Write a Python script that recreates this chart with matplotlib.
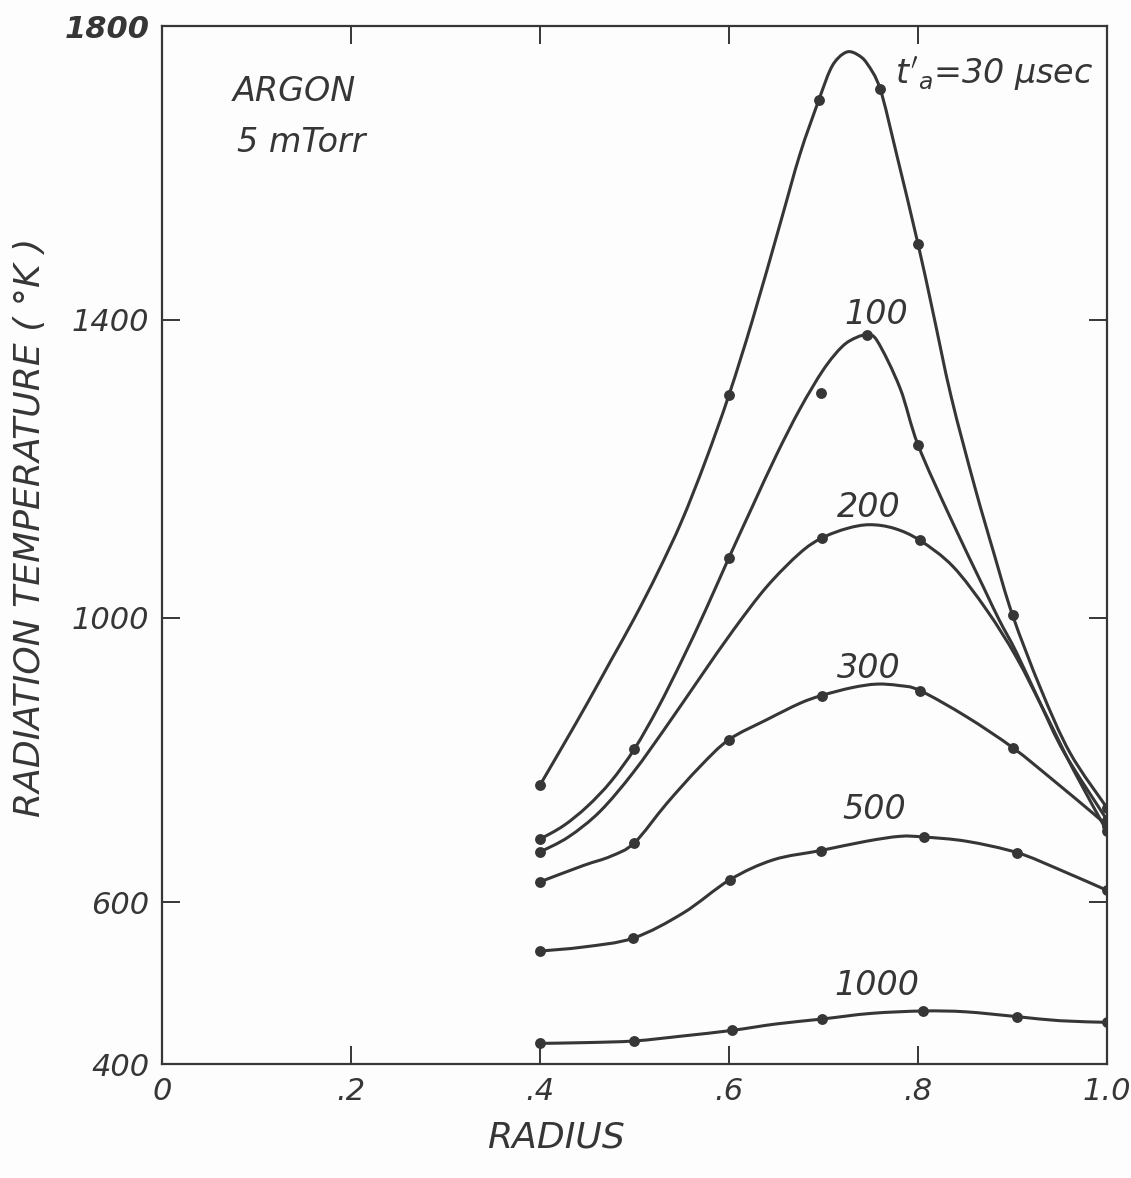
import numpy as np
import matplotlib
matplotlib.use('Agg')
import matplotlib.pyplot as plt
from matplotlib.path import Path
from matplotlib.patches import PathPatch

# colours of the scanned figure
COLOR_BG = '#fdfdfd'
COLOR_INK = '#363636'

# radius (r/R) and radiation temperature (deg K)
# t'a = 30 usec
R_30 = [0.4, 0.425, 0.45, 0.475, 0.5, 0.525, 0.55, 0.575, 0.6, 0.625, 0.654, 0.675, 0.695, 0.707,
        0.716, 0.726, 0.736, 0.746, 0.76, 0.777, 0.8, 0.815, 0.835, 0.86, 0.88, 0.9, 0.93, 0.961, 1.0]
T_30 = [765, 822, 880, 940, 1000, 1062, 1130, 1210, 1299, 1400, 1530, 1625, 1699, 1740,
        1757, 1765, 1761, 1749, 1714, 1627, 1503, 1415, 1297, 1176, 1088, 1004, 900, 810, 733]
R_30_PTS = [0.4, 0.6, 0.695, 0.76, 0.8, 0.9, 1.0]
T_30_PTS = [765, 1299, 1699, 1714, 1503, 1004, 733]

# t'a = 100 usec
R_100 = [0.4, 0.425, 0.45, 0.475, 0.5, 0.525, 0.55, 0.575, 0.6, 0.625, 0.65, 0.675, 0.7,
         0.72, 0.735, 0.746, 0.757, 0.781, 0.8, 0.834, 0.869, 0.886, 0.904, 0.929, 0.955, 1.0]
T_100 = [689, 708, 735, 770, 816, 874, 940, 1010, 1081, 1150, 1218, 1280, 1333,
         1364, 1376, 1379, 1371, 1308, 1232, 1135, 1042, 997, 952, 881, 810, 716]
R_100_PTS = [0.4, 0.5, 0.6, 0.697, 0.746, 0.8, 1.0]
T_100_PTS = [689, 816, 1081, 1301, 1379, 1232, 716]

# t'a = 200 usec
R_200 = [0.4, 0.43, 0.4635, 0.4988, 0.534, 0.5698, 0.6046, 0.64, 0.675, 0.698, 0.725, 0.749,
         0.775, 0.802, 0.837, 0.873, 0.904, 0.935, 0.965, 1.0]
T_200 = [671, 692, 728, 783, 848, 917, 983, 1042, 1087, 1107, 1120, 1125,
         1120, 1104, 1069, 1010, 945, 865, 785, 700]
R_200_PTS = [0.4, 0.698, 0.802, 1.0]
T_200_PTS = [671, 1107, 1104, 700]

# t'a = 300 usec
R_300 = [0.4, 0.446, 0.475, 0.5, 0.534, 0.5693, 0.6, 0.64, 0.675, 0.698, 0.73, 0.756, 0.78, 0.802,
         0.8515, 0.9009, 0.943, 0.9855, 1.0]
T_300 = [629, 652, 665, 684, 739, 791, 829, 857, 880, 891, 902, 907, 905, 898,
         861, 817, 772, 725, 708]
R_300_PTS = [0.4, 0.5, 0.6, 0.698, 0.802, 0.9009, 1.0]
T_300_PTS = [629, 684, 829, 891, 898, 817, 708]

# t'a = 500 usec
R_500 = [0.4, 0.446, 0.4988, 0.5516, 0.601, 0.647, 0.697, 0.745, 0.781, 0.8063, 0.8515, 0.905,
         0.95, 1.0]
T_500 = [540, 545, 556, 587, 632, 660, 673, 686, 693, 692, 686, 670,
         646, 617]
R_500_PTS = [0.4, 0.4988, 0.601, 0.697, 0.8063, 0.905, 1.0]
T_500_PTS = [540, 556, 632, 673, 692, 670, 617]

# t'a = 1000 usec
R_1000 = [0.4, 0.45, 0.5, 0.55, 0.603, 0.65, 0.698, 0.75, 0.8056, 0.85, 0.905, 0.95, 1.0]
T_1000 = [426, 427, 429, 435, 442, 450, 456, 463, 466, 465, 459, 454, 452]
R_1000_PTS = [0.4, 0.5, 0.603, 0.698, 0.8056, 0.905, 1.0]
T_1000_PTS = [426, 429, 442, 456, 466, 459, 452]

X_TICKS = [0, 0.2, 0.4, 0.6, 0.8, 1.0]
X_TICK_LABELS = ['0', '.2', '.4', '.6', '.8', '1.0']
Y_TICKS = [400, 600, 1000, 1400, 1800]
Y_TICK_LABELS = ['400', '600', '1000', '1400', '1800']

# the hand-drawn temperature axis is not quite linear: tick heights on the paper
T_KNOTS = [400, 600, 1000, 1400, 1800]
U_KNOTS = [0.0, 162.0, 446.5, 745.0, 1038.5]
X_PX = 945.0  # paper length of one radius unit, same units as U_KNOTS


def t_to_u(t):
    t = np.asarray(t, dtype=float)
    u = np.interp(t, T_KNOTS, U_KNOTS)
    u = np.where(t < T_KNOTS[0], (t - T_KNOTS[0]) * 162.0 / 200.0, u)
    u = np.where(t > T_KNOTS[-1], U_KNOTS[-1] + (t - T_KNOTS[-1]) * 293.5 / 400.0, u)
    return u


def u_to_t(u):
    u = np.asarray(u, dtype=float)
    t = np.interp(u, U_KNOTS, T_KNOTS)
    t = np.where(u < U_KNOTS[0], T_KNOTS[0] + u * 200.0 / 162.0, t)
    t = np.where(u > U_KNOTS[-1], T_KNOTS[-1] + (u - U_KNOTS[-1]) * 400.0 / 293.5, t)
    return t


def smooth_path(r, t):
    # french-curve look: cubic bezier pieces through the read points
    pts = np.column_stack([np.asarray(r, dtype=float) * X_PX, t_to_u(t)])
    n = len(pts)
    verts = [pts[0]]
    codes = [Path.MOVETO]
    for i in range(n - 1):
        p0 = pts[max(i - 1, 0)]
        p1 = pts[i]
        p2 = pts[i + 1]
        p3 = pts[min(i + 2, n - 1)]
        verts += [p1 + (p2 - p0) / 6.0, p2 - (p3 - p1) / 6.0, p2]
        codes += [Path.CURVE4] * 3
    verts = np.array(verts)
    return Path(np.column_stack([verts[:, 0] / X_PX, u_to_t(verts[:, 1])]), codes)


plt.rcParams['font.family'] = ['DejaVu Sans']
plt.rcParams['mathtext.fontset'] = 'dejavusans'

fig = plt.figure(figsize=(11.31, 11.78), dpi=100, facecolor=COLOR_BG)
ax = fig.add_axes([0.1432, 0.0964, 0.8356, 0.8815])
ax.set_facecolor(COLOR_BG)
ax.set_yscale('function', functions=(t_to_u, u_to_t))
ax.set_xlim(0, 1.0)
ax.set_ylim(400, 1800)

curves = [
    (R_30, T_30, R_30_PTS, T_30_PTS),
    (R_100, T_100, R_100_PTS, T_100_PTS),
    (R_200, T_200, R_200_PTS, T_200_PTS),
    (R_300, T_300, R_300_PTS, T_300_PTS),
    (R_500, T_500, R_500_PTS, T_500_PTS),
    (R_1000, T_1000, R_1000_PTS, T_1000_PTS),
]
for r, t, rp, tp in curves:
    ax.add_patch(PathPatch(smooth_path(r, t), fill=False, edgecolor=COLOR_INK,
                           linewidth=2.2, capstyle='round', joinstyle='round', zorder=2))
    ax.plot(rp, tp, 'o', color=COLOR_INK, markersize=6.8, zorder=3)

ax.set_xticks(X_TICKS)
ax.set_xticklabels(X_TICK_LABELS)
ax.set_yticks(Y_TICKS)
ax.set_yticklabels(Y_TICK_LABELS)
ax.minorticks_off()
ax.tick_params(direction='in', length=13, width=1.4, color=COLOR_INK,
               top=True, right=True, labelsize=22, labelcolor=COLOR_INK, pad=9)
for lab in ax.get_xticklabels() + ax.get_yticklabels():
    lab.set_fontstyle('italic')
ax.get_yticklabels()[-1].set_fontweight('bold')

for spine in ax.spines.values():
    spine.set_linewidth(1.6)
    spine.set_color(COLOR_INK)

# annotations
text_kw = dict(color=COLOR_INK, fontstyle='italic', fontsize=24)
ax.text(0.075, 1711, 'ARGON', ha='left', va='center', **text_kw)
ax.text(0.079, 1641, '5 mTorr', ha='left', va='center', **text_kw)
ax.text(0.776, 1722, r"$t'_a$=30 μsec", ha='left', va='baseline', **text_kw)
ax.text(0.7556, 1394, '100', ha='center', va='baseline', **text_kw)
ax.text(0.748, 1135, '200', ha='center', va='baseline', **text_kw)
ax.text(0.748, 916, '300', ha='center', va='baseline', **text_kw)
ax.text(0.7534, 717, '500', ha='center', va='baseline', **text_kw)
ax.text(0.757, 486, '1000', ha='center', va='baseline', **text_kw)

fig.text(0.4916, 0.034, 'RADIUS', ha='center', va='center',
         color=COLOR_INK, fontstyle='italic', fontsize=26)
fig.text(0.0265, 0.5526, 'RADIATION TEMPERATURE ( °K )', ha='center', va='center',
         rotation=90, color=COLOR_INK, fontstyle='italic', fontsize=26)

fig.savefig('out.png', dpi=100, facecolor=COLOR_BG)
